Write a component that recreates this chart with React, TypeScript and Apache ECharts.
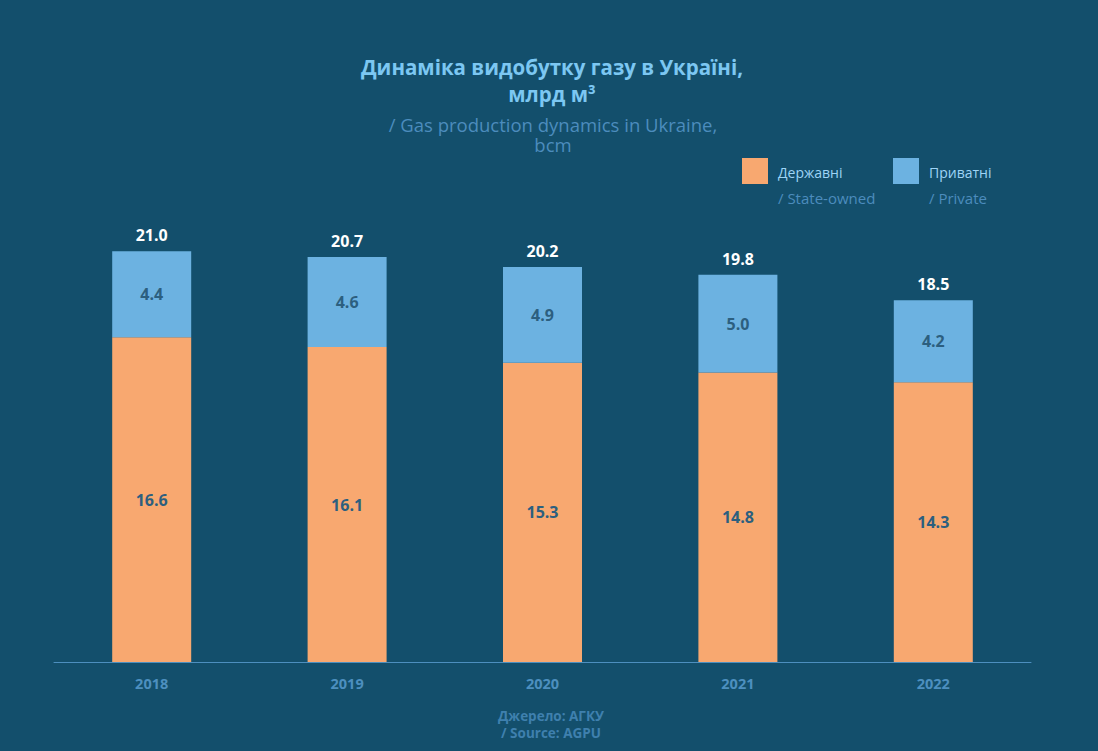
import React, { useEffect, useRef } from "react";
import * as echarts from "echarts";

const years = ["2018", "2019", "2020", "2021", "2022"];
const stateOwned = [16.6, 16.1, 15.3, 14.8, 14.3];
const privateCo = [4.4, 4.6, 4.9, 5.0, 4.2];
const totals = [21.0, 20.7, 20.2, 19.8, 18.5];

const titleLines = ["Динаміка видобутку газу в Україні,", "млрд м³"];
const subtitleLines = ["/ Gas production dynamics in Ukraine,", "bcm"];
const legendUa = ["Державні", "Приватні"];
const legendEn = ["/ State-owned", "/ Private"];
const sourceLines = ["Джерело: АГКУ", "/ Source: AGPU"];

const BG = "#134f6c";
const ORANGE = "#f8a870";
const BLUE = "#6cb2e1";
const FONT = "'Open Sans', 'Noto Sans', sans-serif";

export default function App() {
  const ref = useRef<HTMLDivElement>(null);
  useEffect(() => {
    document.body.style.margin = "0";
    const chart = echarts.init(ref.current!, undefined, { renderer: "svg" });
    const colors = [ORANGE, BLUE];
    const legendX = [742, 893];
    const graphics: any[] = [];
    graphics.push({
      type: "text",
      x: 552,
      y: 53,
      style: {
        text: titleLines.join("\n"),
        fill: "#7cc7f2",
        font: `bold 20.5px ${FONT}`,
        lineHeight: 27,
        textAlign: "center",
        textVerticalAlign: "top",
      },
    });
    graphics.push({
      type: "text",
      x: 553,
      y: 114,
      style: {
        text: subtitleLines.join("\n"),
        fill: "#4c8cbd",
        font: `500 18.5px ${FONT}`,
        lineHeight: 20,
        textAlign: "center",
        textVerticalAlign: "top",
      },
    });
    legendUa.forEach((t, i) => {
      graphics.push({
        type: "rect",
        shape: { x: legendX[i], y: 158, width: 26, height: 26 },
        style: { fill: colors[i] },
      });
      graphics.push({
        type: "text",
        x: legendX[i] + 36,
        y: 172,
        style: {
          text: t,
          fill: "#9ed4f6",
          font: `14px ${FONT}`,
          textVerticalAlign: "middle",
        },
      });
      graphics.push({
        type: "text",
        x: legendX[i] + 36,
        y: 198,
        style: {
          text: legendEn[i],
          fill: "#4c8cbd",
          font: `15px ${FONT}`,
          textVerticalAlign: "middle",
        },
      });
    });
    graphics.push({
      type: "text",
      x: 551,
      y: 707,
      style: {
        text: sourceLines.join("\n"),
        fill: "#3f80ae",
        font: `bold 13.5px ${FONT}`,
        lineHeight: 17,
        textAlign: "center",
        textVerticalAlign: "top",
      },
    });

    const inLabel = {
      show: true,
      position: "inside",
      color: "#2c5f7f",
      fontFamily: FONT,
      fontWeight: "bold",
      fontSize: 16,
      formatter: (p: any) => p.value.toFixed(1),
    };

    chart.setOption({
      animation: false,
      backgroundColor: BG,
      graphic: graphics,
      grid: { left: 54, right: 67, top: 173, bottom: 89, containLabel: false },
      xAxis: {
        type: "category",
        data: years,
        axisLine: { lineStyle: { color: "#4d8fbf", width: 1 } },
        axisTick: { show: false },
        axisLabel: {
          color: "#4d8fbf",
          fontFamily: FONT,
          fontWeight: "bold",
          fontSize: 14.5,
          margin: 14,
        },
      },
      yAxis: {
        type: "value",
        min: 0,
        max: 25,
        show: false,
        splitLine: { show: false },
      },
      series: [
        {
          name: legendUa[0],
          type: "bar",
          stack: "total",
          data: stateOwned,
          barWidth: 79,
          itemStyle: { color: ORANGE },
          label: inLabel,
        },
        {
          name: legendUa[1],
          type: "bar",
          stack: "total",
          data: privateCo,
          barWidth: 79,
          itemStyle: { color: BLUE },
          label: inLabel,
        },
        {
          name: "total",
          type: "bar",
          stack: "total",
          data: totals.map(() => 0),
          barWidth: 79,
          itemStyle: { color: "transparent" },
          label: {
            show: true,
            position: "top",
            distance: 8,
            color: "#ffffff",
            fontFamily: FONT,
            fontWeight: "bold",
            fontSize: 16,
            formatter: (p: any) => totals[p.dataIndex].toFixed(1),
          },
        },
      ],
    });
    return () => chart.dispose();
  }, []);
  return <div ref={ref} style={{ width: 1098, height: 751 }} />;
}
